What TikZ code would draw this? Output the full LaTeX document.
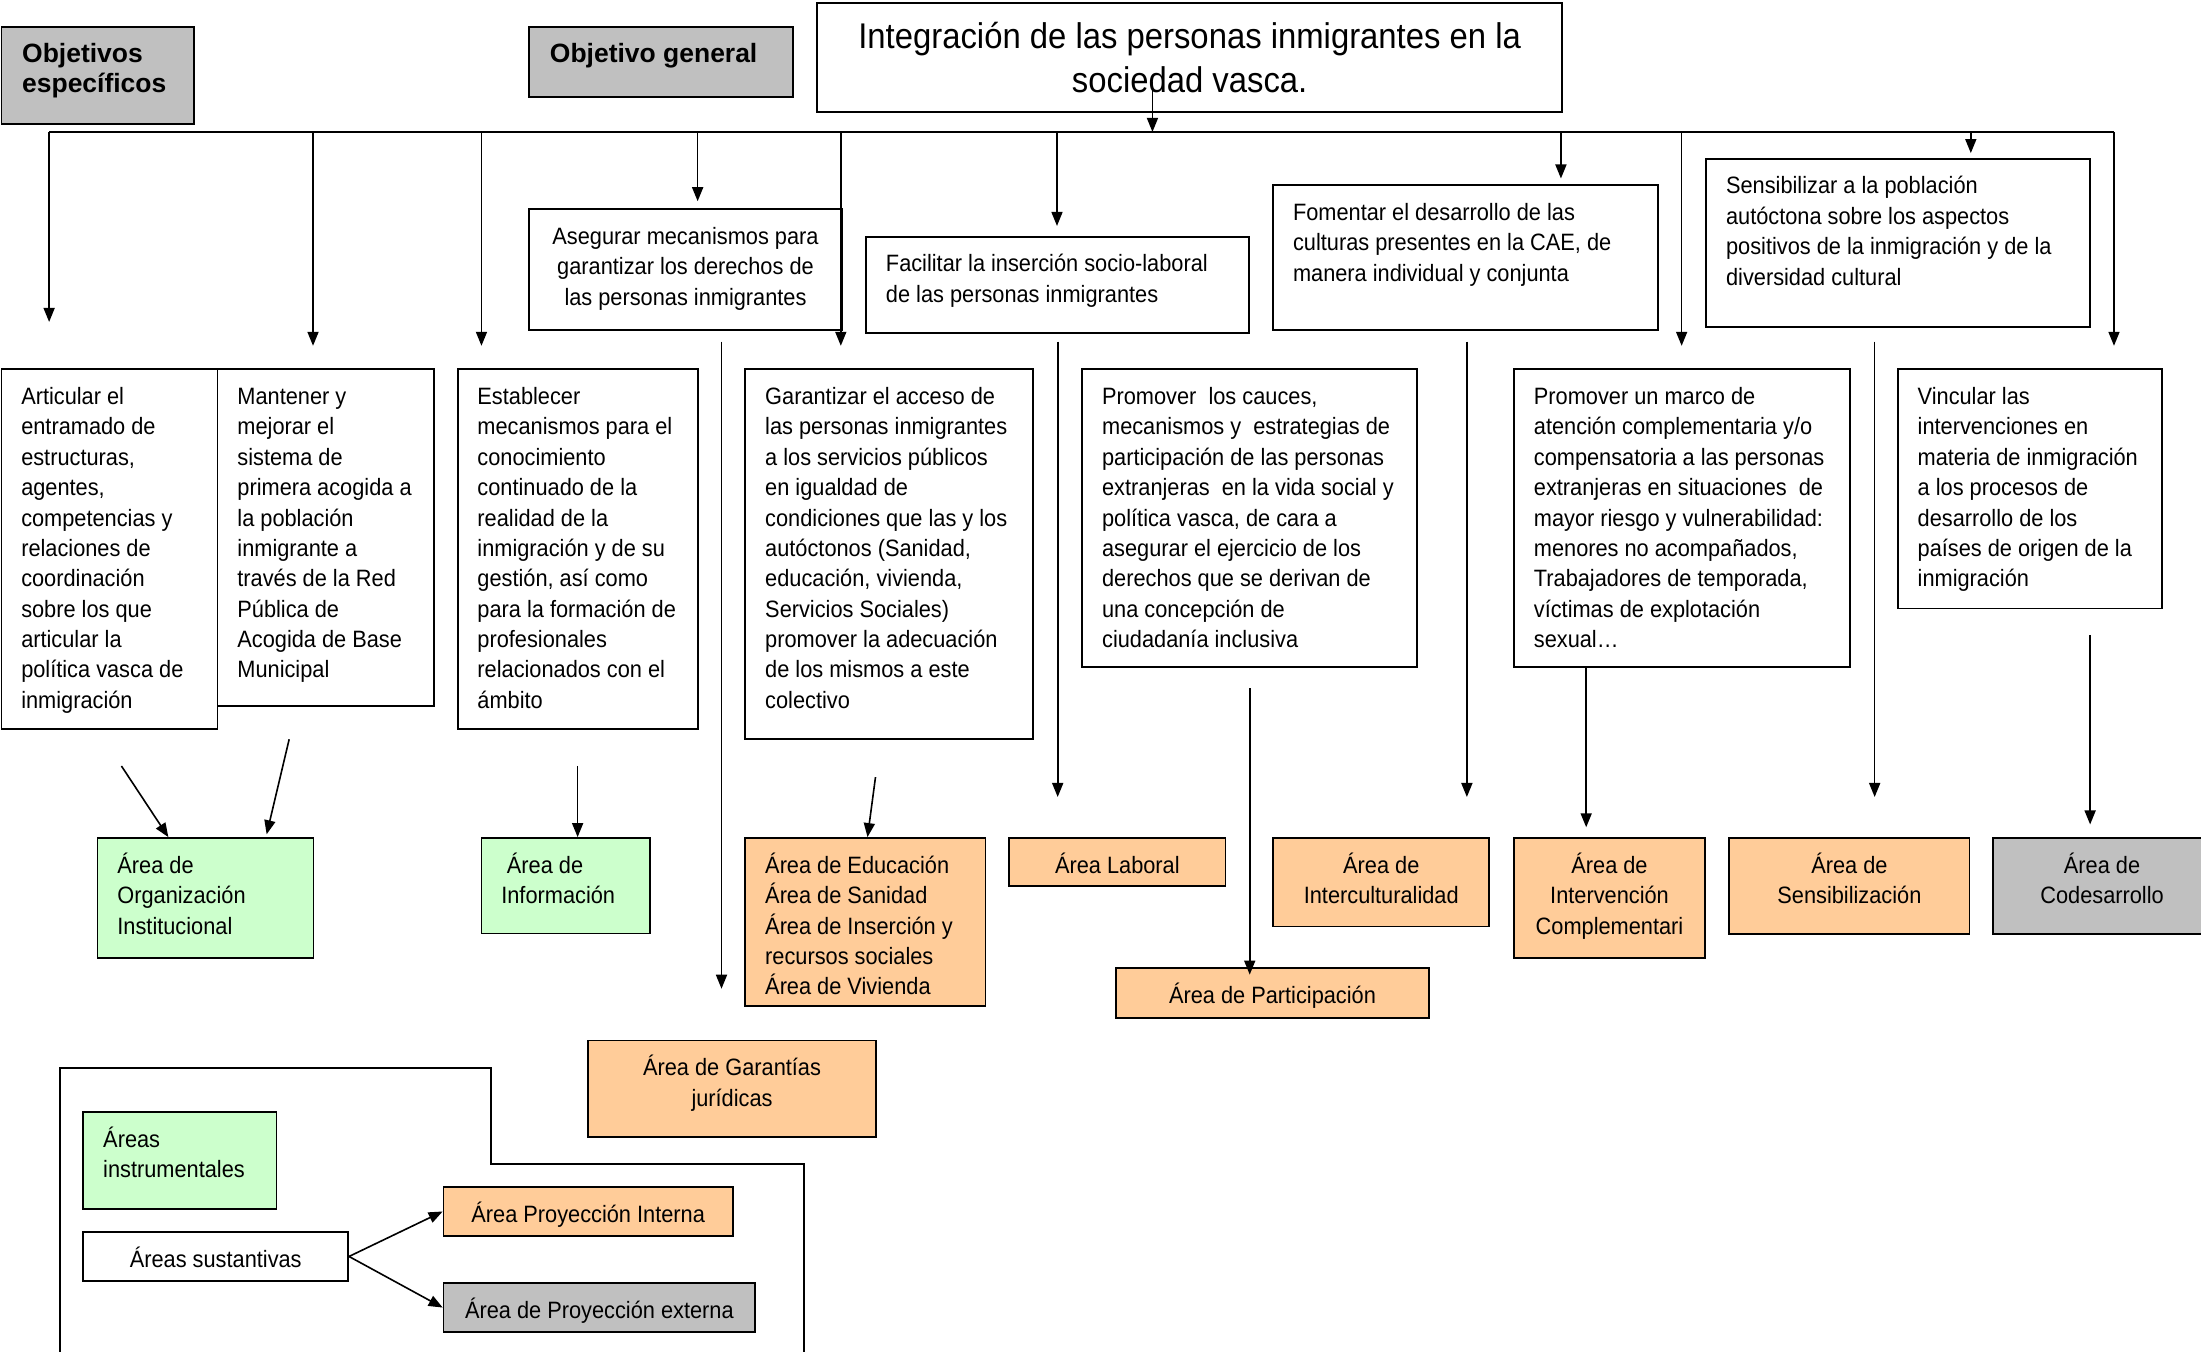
\documentclass[tikz,border=0pt]{standalone}
\usepackage{fontspec}
\setmainfont{Liberation Sans}[FakeStretch=0.92]
\newfontfamily\cabfont{Liberation Sans}
\usetikzlibrary{arrows.meta,fit}

\definecolor{naranja}{HTML}{FFCC99}
\definecolor{verde}{HTML}{CCFFCC}
\definecolor{gris}{HTML}{C0C0C0}

\newcommand{\tst}{\rule{0pt}{11.5pt}}  % 正文首行支柱
\newcommand{\gst}{\rule{0pt}{17pt}}    % 标题首行支柱
\newcommand{\cst}{\rule{0pt}{12.5pt}}  % 粗体标签首行支柱

\tikzset{
  caja/.style={draw, line width=0.9pt, inner sep=0pt},
  txt/.style={inner sep=0pt, align=left, anchor=north west,
    xshift=10.15pt, yshift=-6.35pt, font=\fontsize{11.8pt}{15.15pt}\selectfont},
  txtc/.style={inner sep=0pt, align=center, anchor=north,
    yshift=-6.35pt, font=\fontsize{11.8pt}{15.15pt}\selectfont},
  cab/.style={inner sep=0pt, align=left, anchor=north west,
    xshift=10.6pt, yshift=-5.2pt, font=\cabfont\bfseries\fontsize{13.2pt}{15.2pt}\selectfont},
  tit/.style={inner sep=0pt, align=center, anchor=north,
    yshift=-5.9pt, font=\fontsize{17.8pt}{21.7pt}\selectfont},
  linea/.style={line width=0.8pt},
  flecha/.style={line width=0.8pt, -{Triangle[length=7pt,width=5.5pt]}},
}

\begin{document}
\begin{tikzpicture}[x=0.7pt, y=-0.7pt]
  % 页面范围
  \fill[white] (0,0) rectangle (1568,963);
  \useasboundingbox (0,0) rectangle (1568,963);

  % 标签与总目标
  \node[caja, fill=gris, fit={(1,19.5) (138,88.4)},
    label={[cab]north west:{\cst Objetivos\\específicos}}] (oesp) {};
  \node[caja, fill=gris, fit={(377,19.5) (565,69)},
    label={[cab]north west:{\cst Objetivo general}}] (ogen) {};
  \node[caja, fit={(582,2.4) (1113,79.6)},
    label={[tit]north:{\gst Integración de las personas inmigrantes en la\\sociedad vasca.}}] (tit) {};

  % 中间一层目标
  \node[caja, fit={(377,149) (599.7,235)},
    label={[txtc]north:{\tst Asegurar mecanismos para\\garantizar los derechos de\\las personas inmigrantes}}] (ase) {};
  \node[caja, fit={(617,168.6) (890,237)},
    label={[txt]north west:{\tst Facilitar la inserción socio-laboral\\de las personas inmigrantes}}] (fac) {};
  \node[caja, fit={(907,132) (1181,235)},
    label={[txt]north west:{\tst Fomentar el desarrollo de las\\culturas presentes en la CAE, de\\manera individual y conjunta}}] (fom) {};
  \node[caja, fit={(1215.5,113) (1489,232.7)},
    label={[txt]north west:{\tst Sensibilizar a la población\\autóctona sobre los aspectos\\positivos de la inmigración y de la\\diversidad cultural}}] (sen) {};

  % 具体目标
  \node[caja, fit={(1,263) (155,519.6)},
    label={[txt]north west:{\tst Articular el\\entramado de\\estructuras,\\agentes,\\competencias y\\relaciones de\\coordinación\\sobre los que\\articular la\\política vasca de\\inmigración}}] (art) {};
  \node[caja, fit={(155,263) (309,503)},
    label={[txt]north west:{\tst Mantener y\\mejorar el\\sistema de\\primera acogida a\\la población\\inmigrante a\\través de la Red\\Pública de\\Acogida de Base\\Municipal}}] (man) {};
  \node[caja, fit={(326,263) (497,519.6)},
    label={[txt]north west:{\tst Establecer\\mecanismos para el\\conocimiento\\continuado de la\\realidad de la\\inmigración y de su\\gestión, así como\\para la formación de\\profesionales\\relacionados con el\\ámbito}}] (est) {};
  \node[caja, fit={(531,263) (736,526.7)},
    label={[txt]north west:{\tst Garantizar el acceso de\\las personas inmigrantes\\a los servicios públicos\\en igualdad de\\condiciones que las y los\\autóctonos (Sanidad,\\educación, vivienda,\\Servicios Sociales)\\promover la adecuación\\de los mismos a este\\colectivo}}] (gza) {};
  \node[caja, fit={(771,263) (1009.6,475.4)},
    label={[txt]north west:{\tst Promover\ \ los cauces,\\mecanismos y\ \ estrategias de\\participación de las personas\\extranjeras\ \ en la vida social y\\política vasca, de cara a\\asegurar el ejercicio de los\\derechos que se derivan de\\una concepción de\\ciudadanía inclusiva}}] (pca) {};
  \node[caja, fit={(1078.6,263) (1318,475.4)},
    label={[txt]north west:{\tst Promover un marco de\\atención complementaria y/o\\compensatoria a las personas\\extranjeras en situaciones\ \ de\\mayor riesgo y vulnerabilidad:\\menores no acompañados,\\Trabajadores de temporada,\\víctimas de explotación\\sexual…}}] (pma) {};
  \node[caja, fit={(1352,263) (1540,433.5)},
    label={[txt]north west:{\tst Vincular las\\intervenciones en\\materia de inmigración\\a los procesos de\\desarrollo de los\\países de origen de la\\inmigración}}] (vin) {};

  % 各领域
  \node[caja, fill=verde, fit={(69.5,597) (223.4,682.5)},
    label={[txt]north west:{\tst Área de\\Organización\\Institucional}}] (aorg) {};
  \node[caja, fill=verde, fit={(343,597) (463,665)},
    label={[txt]north west:{\tst\hspace{2.8pt}Área de\\Información}}] (ainf) {};
  \node[caja, fill=naranja, fit={(531,597) (702,716.7)},
    label={[txt]north west:{\tst Área de Educación\\Área de Sanidad\\Área de Inserción y\\recursos sociales\\Área de Vivienda}}] (aedu) {};
  \node[caja, fill=naranja, fit={(719,597) (873,631.4)},
    label={[txtc]north:{\tst Área Laboral}}] (alab) {};
  \node[caja, fill=naranja, fit={(907,597) (1061,660)},
    label={[txtc]north:{\tst Área de\\Interculturalidad}}] (aint) {};
  \node[caja, fill=naranja, fit={(1078.6,597) (1214.6,682.5)},
    label={[txtc]north:{\tst Área de\\Intervención\\Complementari}}] (aic) {};
  \node[caja, fill=naranja, fit={(1232,597) (1403,665.4)},
    label={[txtc]north:{\tst Área de\\Sensibilización}}] (asen) {};
  \node[caja, fill=gris, fit={(1420,597) (1575,665.4)},
    label={[txtc]north:{\tst Área de\\Codesarrollo}}] (acod) {};
  \node[caja, fill=naranja, fit={(795,689.4) (1018,725)},
    label={[txtc]north:{\tst Área de Participación}}] (apar) {};
  \node[caja, fill=naranja, fit={(419,741.3) (624,810)},
    label={[txtc]north:{\tst Área de Garantías\\jurídicas}}] (agar) {};

  % 图例
  \draw[line width=0.9pt] (43,963) -- (43,761) -- (350,761) -- (350,829) -- (573,829) -- (573,963);
  \node[caja, fill=verde, fit={(59.4,792) (197,861)},
    label={[txt]north west:{\tst Áreas\\instrumentales}}] (lins) {};
  \node[caja, fit={(59.4,877.7) (248,912.5)},
    label={[txtc]north:{\tst Áreas sustantivas}}] (lsus) {};
  \node[caja, fill=naranja, fit={(316,845.8) (522,880.3)},
    label={[txtc]north:{\tst Área Proyección Interna}}] (lpi) {};
  \node[caja, fill=gris, fit={(316,914) (538,949)},
    label={[txtc]north:{\tst Área de Proyección externa}}] (lpe) {};
  \draw[flecha] (lsus.east) -- (lpi.west);
  \draw[flecha] (lsus.east) -- (lpe.west);

  % 总线与分支箭头
  \draw[flecha, shorten <=-15.1pt] (tit.south -| 821,0) -- (821,94);
  \draw[linea] (35,94) -- (1506,94);
  \foreach \x/\n/\g in {35/art/33, 223/man/16, 343/est/16, 497/ase/5, 599/gza/16,
                        753/fac/7, 1112/fom/4.2, 1198/pma/16, 1404/sen/3.3, 1506/vin/16} {
    \draw[flecha, shorten >=\g*0.7pt] (\x,94) -- (\x,94 |- \n.north);  % 指向各框
  }

  % 目标到领域
  \draw[flecha, shorten <=5.4pt, shorten >=25.4pt] (ase.south -| 514,0) -- (agar.north -| 514,0);
  \draw[flecha, shorten <=4pt, shorten >=20pt] (fac.south -| 753.5,0) -- (alab.north -| 753.5,0);
  \draw[flecha, shorten <=5.4pt, shorten >=20pt] (fom.south -| 1045,0) -- (aint.north -| 1045,0);
  \draw[flecha, shorten <=7pt, shorten >=20pt] (sen.south -| 1335.5,0) -- (asen.north -| 1335.5,0);
  \draw[flecha, shorten <=9.9pt, shorten >=-3.9pt] (pca.south -| 890.3,0) -- (apar.north -| 890.3,0);
  \draw[flecha, shorten >=4.9pt] (pma.south -| 1130,0) -- (aic.north -| 1130,0);
  \draw[flecha, shorten <=12.7pt, shorten >=6.3pt] (vin.south -| 1489,0) -- (acod.north -| 1489,0);
  \draw[flecha] ([xshift=5.95pt,yshift=-17.8pt]art.south) -- ([xshift=-18.55pt]aorg.north);
  \draw[flecha] ([xshift=-18.2pt,yshift=-16.1pt]man.south) -- ([xshift=30.45pt,yshift=1.4pt]aorg.north);
  \draw[flecha, shorten <=17.8pt] (est.south) -- (est.south |- ainf.north);
  \draw[flecha] ([xshift=-6.86pt,yshift=-18.4pt]gza.south) -- ([xshift=1.05pt]aedu.north);
\end{tikzpicture}
\end{document}
